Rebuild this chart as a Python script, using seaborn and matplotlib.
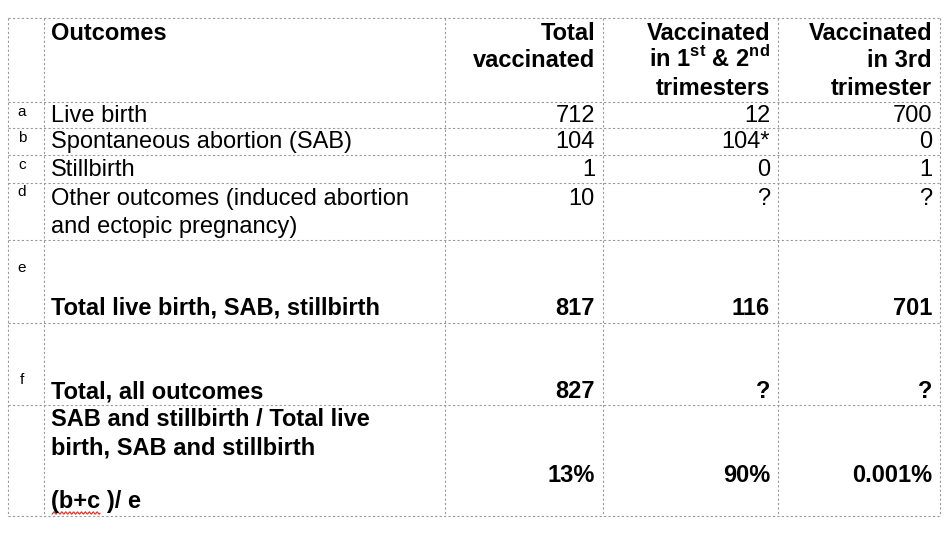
import matplotlib
matplotlib.use("Agg")
import matplotlib.pyplot as plt
import seaborn as sns
import numpy as np

sns.set_theme(style="white")
plt.rcParams["font.family"] = "Liberation Sans"
plt.rcParams["text.color"] = "black"
plt.rcParams["mathtext.fontset"] = "custom"
plt.rcParams["mathtext.rm"] = "Liberation Sans"
plt.rcParams["mathtext.bf"] = "Liberation Sans:bold"

row_letters = ["a", "b", "c", "d", "e", "f", ""]
outcomes = [["Live birth"], ["Spontaneous abortion (SAB)"], ["Stillbirth"],
            ["Other outcomes (induced abortion", "and ectopic pregnancy)"],
            ["Total live birth, SAB, stillbirth"], ["Total, all outcomes"],
            ["SAB and stillbirth / Total live", "birth, SAB and stillbirth"]]
total_vacc = ["712", "104", "1", "10", "817", "827", "13%"]
vacc_12 = ["12", "104*", "0", "?", "116", "?", "90%"]
vacc_3 = ["700", "0", "1", "?", "701", "?", "0.001%"]
bold_rows = [False, False, False, False, True, True, True]

fig = plt.figure(figsize=(9.47, 5.33), dpi=100)
ax = fig.add_axes([0, 0, 1, 1])
ax.set_xlim(0, 947); ax.set_ylim(533, 0); ax.axis("off")

xs = [8, 44, 445, 603, 778, 940]
ys = [18, 102, 128, 155, 183, 240, 323, 405, 516]
lc = "#9a9a9a"
for x in xs:
    ax.plot([x, x], [ys[0], ys[-1]], ls=(0, (2, 2)), lw=0.8, color=lc)
for y in ys:
    ax.plot([xs[0], xs[-1]], [y, y], ls=(0, (2, 2)), lw=0.8, color=lc)

fs = 17
kw = dict(fontsize=fs, weight="bold", va="baseline")
ax.text(51, 40, "Outcomes", **kw)
ax.text(595, 40, "Total", ha="right", **kw)
ax.text(595, 67, "vaccinated", ha="right", **kw)
ax.text(770, 40, "Vaccinated", ha="right", **kw)
ax.text(770, 67, r"in 1$^{\mathbf{st}}$ & 2$^{\mathbf{nd}}$", ha="right", **kw)
ax.text(770, 95, "trimesters", ha="right", **kw)
ax.text(932, 40, "Vaccinated", ha="right", **kw)
ax.text(932, 67, "in 3rd", ha="right", **kw)
ax.text(932, 95, "trimester", ha="right", **kw)

text_y = [122, 148, 176, 205, 315, 398, 426]
num_y = [122, 148, 176, 205, 315, 398, 482]
letter_y = [112, 138, 165, 192, 268, 380, None]
for i in range(7):
    w = "bold" if bold_rows[i] else "normal"
    if letter_y[i] is not None:
        ax.text(22, letter_y[i], row_letters[i], fontsize=11, va="center", ha="center")
    for j, line in enumerate(outcomes[i]):
        ax.text(51, text_y[i] + 28 * j, line, fontsize=fs, weight=w, va="baseline")
    for x, col in ((595, total_vacc), (770, vacc_12), (932, vacc_3)):
        ax.text(x, num_y[i], col[i], fontsize=fs, weight=w, va="baseline", ha="right")

ax.text(51, 508, "(b+c )/ e", **kw)
wx = np.linspace(52, 100, 60)
ax.plot(wx, 513 + 1.2 * np.sin(wx * 1.6), color="#d03030", lw=0.8)

fig.savefig("out.png", dpi=100, facecolor="white")
